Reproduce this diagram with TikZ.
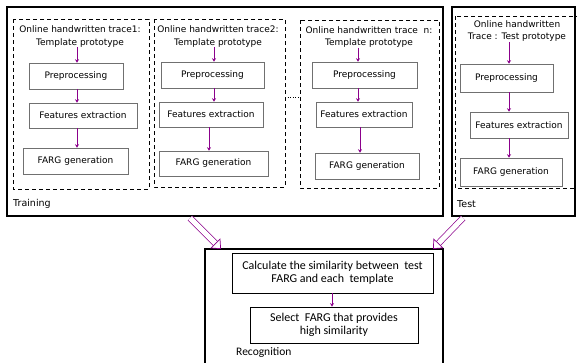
\documentclass[tikz,border=0pt]{standalone}
\usepackage{fontspec}
\setmainfont{DejaVu Sans}
\newfontfamily\recfont{Carlito}
\usetikzlibrary{positioning, arrows.meta, calc}
\definecolor{flow}{HTML}{8B008B}
\definecolor{boxline}{HTML}{707070}

\begin{document}
\begin{tikzpicture}[
        x=1pt, y=-1pt,
        frame/.style={draw=black, line width=1.3pt},
        group/.style={draw=black, dash pattern=on 4pt off 3pt, line width=0.7pt},
        stepbox/.style={rectangle, draw=boxline, fill=white, line width=0.6pt,
                  font=\fontsize{9}{10}\selectfont, inner sep=0pt},
        recbox/.style={rectangle, draw=black, fill=white, line width=0.8pt,
                  font=\recfont\fontsize{12}{13.5}\selectfont, align=center, inner sep=0pt},
        title/.style={font=\fontsize{9}{12.5}\selectfont, align=center, inner sep=0pt},
        lbl/.style={font=\fontsize{9.5}{10}\selectfont, anchor=west, inner sep=0pt},
        link/.style={-{Stealth[length=3.5pt, width=4pt]}, flow, line width=1pt},
        bigarrow/.style={flow, line width=0.7pt, double=white, double distance=5pt,
                  -{Triangle[open, length=8pt, width=14pt]}}
      ]
        \useasboundingbox (0,0) rectangle (577,362);
        \clip (0,0) rectangle (577,362);
        % outer frames
        \draw[frame] (7,7) rectangle (443,216);
        \draw[frame] (452,7) rectangle (575,216);
        \draw[frame] (205,249) rectangle (443,366);
        \node[lbl] (training) at (13,204) {Training};
        \node[lbl] (test) at (457,204) {Test};
        \node[lbl, font=\recfont\fontsize{11.5}{12}\selectfont] (recog) at (236,353) {Recognition};
        % dashed groups
        \draw[group] (13,19) rectangle (149,189);
        \draw[group] (154,19) rectangle (285,187);
        \draw[group] (300,20) rectangle (439,188);
        \draw[group] (455,16) rectangle (580,188);
        \coordinate (dotsA) at (285,97);
        \coordinate (dotsB) at (300,97);
        \draw[dotted, line width=0.6pt] (dotsA) -- (dotsB);
        % trace 1
        \node[title] (t1) at (80,36.5) {Online handwritten trace1:\\Template prototype};
        \node[stepbox, minimum width=94pt, minimum height=26pt] (p1) at (76,76) {Preprocessing};
        \node[stepbox, minimum width=108pt, minimum height=25pt] (f1) at (83,115.5) {Features extraction};
        \node[stepbox, minimum width=105pt, minimum height=26pt] (g1) at (75.5,161) {FARG generation};
        \draw[link] (t1.south -| 77,0) -- (p1.north -| 77,0);
        \draw[link] (p1.south -| 77,0) -- (f1.north -| 77,0);
        \draw[link] (f1.south -| 77,0) -- (g1.north -| 77,0);
        % trace 2
        \node[title] (t2) at (218,36.5) {Online handwritten trace2:\\Template prototype};
        \node[stepbox, minimum width=103pt, minimum height=26pt] (p2) at (212.5,75) {Preprocessing};
        \node[stepbox, minimum width=104pt, minimum height=25pt] (f2) at (211,114.5) {Features extraction};
        \node[stepbox, minimum width=109pt, minimum height=25pt] (g2) at (213.5,163.5) {FARG generation};
        \draw[link] (t2.south -| 214,0) -- (p2.north -| 214,0);
        \draw[link] (p2.south -| 214,0) -- (f2.north -| 214,0);
        \draw[link] (f2.south -| 209,0) -- (g2.north -| 209,0);
        % trace n
        \node[title] (tn) at (369,37) {Online handwritten trace\ \ n:\\Template prototype};
        \node[stepbox, minimum width=105pt, minimum height=26pt] (pn) at (364.5,75) {Preprocessing};
        \node[stepbox, minimum width=96pt, minimum height=25pt] (fn) at (364,114.5) {Features extraction};
        \node[stepbox, minimum width=104pt, minimum height=26pt] (gn) at (367,166) {FARG generation};
        \draw[link] (tn.south -| 358,0) -- (pn.north -| 358,0);
        \draw[link] (pn.south -| 358,0) -- (fn.north -| 358,0);
        \draw[link] (fn.south -| 360,0) -- (gn.north -| 360,0);
        % test
        \node[title] (tt) at (517,31) {Online handwritten\\Trace : Test prototype};
        \node[stepbox, minimum width=93pt, minimum height=28pt] (pt) at (506.5,78) {Preprocessing};
        \node[stepbox, minimum width=98pt, minimum height=26pt] (ft) at (519,125) {Features extraction};
        \node[stepbox, minimum width=102pt, minimum height=28pt] (gt) at (511,172) {FARG generation};
        \draw[link] (tt.south -| 509,0) -- (pt.north -| 509,0);
        \draw[link] (pt.south -| 509,0) -- (ft.north -| 509,0);
        \draw[link] (ft.south -| 509,0) -- (gt.north -| 509,0);
        % recognition
        \node[recbox, minimum width=201pt, minimum height=40pt] (calc) at (332.5,273)
            {Calculate the similarity between\ \ test\\FARG and each\ \ template};
        \node[recbox, minimum width=168pt, minimum height=36pt] (sel) at (334,325)
            {Select\ \ FARG that provides\\high similarity};
        \draw[link, line width=0.8pt] (calc.south -| 332,0) -- (sel.north -| 332,0);
        % hollow arrows
        \coordinate (trainOut) at (190,218);
        \coordinate (recInL) at (221,249);
        \coordinate (testOut) at (463,218);
        \coordinate (recInR) at (433,249);
        \draw[bigarrow] (trainOut) -- (recInL);
        \draw[bigarrow] (testOut) -- (recInR);
      \end{tikzpicture}
\end{document}
